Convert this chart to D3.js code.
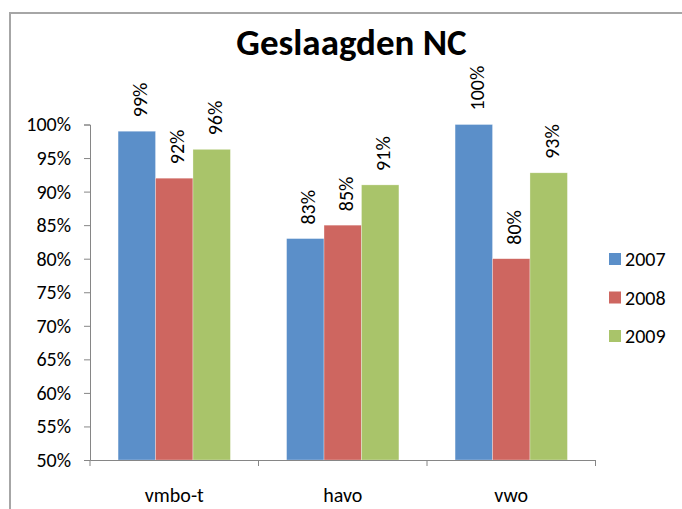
<!DOCTYPE html>
<html>
<head>
<meta charset="utf-8">
<script src="https://cdn.jsdelivr.net/npm/d3@7"></script>
<style>
  html, body { margin: 0; padding: 0; background: #fff; }
  svg { display: block; }
  text { font-family: Carlito, Calibri, Lato, "Open Sans", sans-serif; fill: #000; }
</style>
</head>
<body>
<svg id="chart" width="682" height="509"></svg>
<script>
const title = "Geslaagden NC";
const categories = ["vmbo-t", "havo", "vwo"];
const seriesNames = ["2007", "2008", "2009"];
const values2007 = [0.99, 0.83, 1.00];
const values2008 = [0.92, 0.85, 0.80];
const values2009 = [0.963, 0.91, 0.928];
const labels2007 = ["99%", "83%", "100%"];
const labels2008 = ["92%", "85%", "80%"];
const labels2009 = ["96%", "91%", "93%"];
const yTicks = [0.50, 0.55, 0.60, 0.65, 0.70, 0.75, 0.80, 0.85, 0.90, 0.95, 1.00];
const colors = ["#5B8FC9", "#CE6660", "#A9C46A"];

const series = [
  { name: seriesNames[0], values: values2007, labels: labels2007, color: colors[0] },
  { name: seriesNames[1], values: values2008, labels: labels2008, color: colors[1] },
  { name: seriesNames[2], values: values2009, labels: labels2009, color: colors[2] }
];

const svg = d3.select("#chart");
const plot = { left: 90, right: 595.5, top: 124.5, bottom: 460 };
const fs = 20;

// outer frame
svg.append("path")
  .attr("d", "M10,520 L10,13 L690,13")
  .attr("fill", "none").attr("stroke", "#A6A6A6").attr("stroke-width", 2);

// title
svg.append("text")
  .attr("x", 351.5).attr("y", 55)
  .attr("text-anchor", "middle")
  .attr("font-weight", "bold")
  .attr("font-size", 37)
  .text(title);

const x0 = d3.scaleBand().domain(categories).range([plot.left, plot.right]).paddingInner(0).paddingOuter(0);
const gapRatio = 1.5; // gap as fraction of a bar width
const barW = x0.bandwidth() / (series.length + gapRatio);
const x1 = d3.scaleBand().domain(seriesNames)
  .range([barW * gapRatio / 2, barW * gapRatio / 2 + barW * series.length]);
const y = d3.scaleLinear().domain([0.5, 1.0]).range([plot.bottom, plot.top]);

// bars
series.forEach(s => {
  const g = svg.append("g");
  g.selectAll("rect").data(categories).enter().append("rect")
    .attr("x", (c) => x0(c) + x1(s.name))
    .attr("width", x1.bandwidth())
    .attr("y", (c, i) => y(s.values[i]))
    .attr("height", (c, i) => y(0.5) - y(s.values[i]))
    .attr("fill", s.color)
    .attr("stroke", "#ffffff").attr("stroke-opacity", 0.5).attr("stroke-width", 0.6);
  g.selectAll("text").data(categories).enter().append("text")
    .attr("transform", (c, i) => {
      const cx = x0(c) + x1(s.name) + x1.bandwidth() / 2 + 10;
      const ty = y(s.values[i]) - 14;
      return `translate(${cx},${ty}) rotate(-90)`;
    })
    .attr("font-size", fs)
    .text((c, i) => s.labels[i]);
});

// y axis
const yAxis = d3.axisLeft(y).tickValues(yTicks).tickFormat(d3.format(".0%")).tickSize(6).tickPadding(13);
const gy = svg.append("g").attr("transform", `translate(${plot.left},0)`).call(yAxis);
gy.selectAll("path, line").attr("stroke", "#868686");
gy.selectAll("text").attr("font-size", fs).attr("fill", "#000");
gy.attr("font-family", null).attr("font-size", null);

// x axis
const xAxis = d3.axisBottom(x0).tickSize(0).tickPadding(28);
const gx = svg.append("g").attr("transform", `translate(0,${plot.bottom})`).call(xAxis);
gx.select(".domain").attr("stroke", "#868686");
gx.selectAll("text").attr("font-size", fs).attr("fill", "#000");
gx.attr("font-family", null).attr("font-size", null);
const boundaries = [plot.left].concat(categories.map(c => x0(c) + x0.bandwidth()));
gx.selectAll("line.sep").data(boundaries).enter().append("line")
  .attr("class", "sep")
  .attr("x1", d => d).attr("x2", d => d).attr("y1", 0).attr("y2", 6)
  .attr("stroke", "#868686");

// legend
const legend = svg.append("g").attr("transform", "translate(609,253)");
series.forEach((s, i) => {
  const row = legend.append("g").attr("transform", `translate(0,${i * 38.5})`);
  row.append("rect").attr("width", 12).attr("height", 12).attr("fill", s.color);
  row.append("text").attr("x", 16).attr("y", 13).attr("font-size", fs).text(s.name);
});
</script>
</body>
</html>
